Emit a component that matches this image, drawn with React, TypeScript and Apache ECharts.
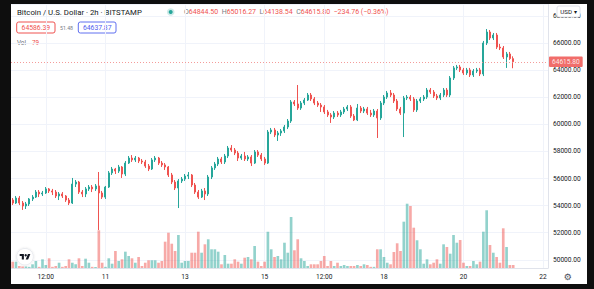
import React, { useEffect, useRef } from "react";
import * as echarts from "echarts";

// ---- data (2h candles, Bitstamp BTC/USD) ----
const opens = [
  54410, 54190, 54560, 54190, 53970, 54120, 54490, 54630, 55000, 54860,
  54930, 55230, 55080, 55000, 54710, 54860, 54710, 54410, 54190, 55590,
  55740, 55000, 54860, 55230, 55370, 55230, 55450, 54930, 54630, 55370,
  56410, 56700, 56550, 56850, 56330, 57140, 57510, 57370, 57510, 57290,
  57220, 56920, 56700, 57370, 57510, 57140, 57000, 56850, 56260, 55740,
  55300, 55820, 55960, 56180, 56260, 55520, 55000, 54630, 55080, 54860,
  56110, 56780, 57070, 57440, 57220, 57660, 58250, 58100, 57880, 57510,
  57660, 57440, 57590, 57140, 57960, 57730, 57440, 57140, 59430, 59580,
  59210, 59360, 59510, 59800, 60240, 61650, 61500, 61200, 61570, 61790,
  62160, 61870, 61570, 61420, 61280, 60910, 60690, 60540, 60830, 60690,
  60910, 61130, 61280, 60610, 60320, 61200, 60980, 61130, 60830, 60690,
  60980, 60470, 61570, 62010, 62310, 62160, 61720, 61130, 60830, 61940,
  62010, 61870, 61060, 61720, 61870, 62010, 62530, 62380, 62090, 61940,
  62160, 62530, 62160, 63420, 64160, 64230, 64010, 63790, 64010, 63640,
  63930, 64010, 63710, 66000, 66810, 66370, 66590, 65700, 65630, 64970,
  65190, 64844.5,
];
const closes = [
  54190, 54560, 54190, 53970, 54120, 54490, 54630, 55000, 54860, 54930,
  55230, 55080, 55000, 54710, 54860, 54710, 54410, 54190, 55590, 55740,
  55000, 54860, 55230, 55370, 55230, 55450, 54930, 54630, 55370, 56410,
  56700, 56550, 56850, 56330, 57140, 57510, 57370, 57510, 57290, 57220,
  56920, 56700, 57370, 57510, 57140, 57000, 56850, 56260, 55740, 55300,
  55820, 55960, 56180, 56260, 55520, 55000, 54630, 55080, 54860, 56110,
  56780, 57070, 57440, 57220, 57660, 58250, 58100, 57880, 57510, 57660,
  57440, 57590, 57140, 57960, 57730, 57440, 57140, 59430, 59580, 59210,
  59360, 59510, 59800, 60240, 61650, 61500, 61200, 61570, 61790, 62160,
  61870, 61570, 61420, 61280, 60910, 60690, 60540, 60830, 60690, 60910,
  61130, 61280, 60610, 60320, 61200, 60980, 61130, 60830, 60690, 60980,
  60470, 61570, 62010, 62310, 62160, 61720, 61130, 60830, 61940, 62010,
  61870, 61060, 61720, 61870, 62010, 62530, 62380, 62090, 61940, 62160,
  62530, 62160, 63420, 64160, 64230, 64010, 63790, 64010, 63640, 63930,
  64010, 63710, 66000, 66810, 66370, 66590, 65700, 65630, 64970, 65190,
  64850.56, 64615.8,
];
const lows = [
  54040, 54120, 54040, 53680, 53750, 53970, 54340, 54560, 54630, 54710,
  54860, 54930, 54780, 54560, 54410, 54560, 54270, 54040, 54120, 55370,
  54860, 54630, 54630, 55080, 55000, 55080, 52200, 54490, 54490, 55300,
  56260, 56330, 56410, 56040, 56180, 57070, 57220, 57220, 57140, 57070,
  56780, 56550, 56630, 57220, 57000, 56850, 56630, 56110, 55590, 55150,
  53820, 55670, 55820, 55960, 55370, 54860, 54490, 54560, 54410, 54710,
  55960, 56630, 56920, 57070, 57070, 57510, 57960, 57730, 57290, 57370,
  57290, 57290, 56920, 57070, 57590, 57290, 57000, 57070, 59280, 59060,
  58770, 59140, 59360, 59650, 60100, 61350, 61060, 61060, 61420, 61720,
  61720, 61420, 61280, 60910, 60760, 60540, 60100, 60390, 60540, 60540,
  60760, 60980, 60470, 60240, 60240, 60830, 60830, 60690, 60540, 60540,
  58990, 60320, 61420, 61870, 62010, 61570, 60980, 60690, 59060, 61790,
  61720, 60910, 60910, 61570, 61720, 61870, 62240, 61940, 61790, 61790,
  62010, 62010, 62010, 63270, 64010, 63860, 63640, 63640, 63490, 63490,
  63790, 63560, 63560, 65850, 66220, 66220, 65560, 65480, 64820, 64160,
  64750, 64138.54,
];
const highs = [
  54560, 54710, 54710, 54340, 54270, 54560, 54780, 55150, 55150, 55080,
  55370, 55300, 55230, 55150, 55000, 55000, 54780, 54560, 56040, 55890,
  55820, 55150, 55370, 55520, 55520, 55590, 56480, 55080, 55450, 56550,
  56850, 56780, 57000, 56920, 57290, 57660, 57730, 57660, 57590, 57440,
  57370, 57070, 57510, 57660, 57590, 57290, 57140, 56920, 56410, 55890,
  55960, 56110, 56330, 56480, 56330, 55670, 55150, 55230, 55300, 56260,
  56920, 57220, 57590, 57590, 57810, 58400, 58470, 58250, 58030, 57810,
  57960, 57730, 57730, 58100, 58100, 57880, 57590, 59580, 59730, 59730,
  59510, 59650, 59950, 60390, 61790, 61790, 62900, 61720, 61940, 62310,
  62310, 62010, 61720, 61570, 61420, 61060, 60830, 60980, 60980, 61060,
  61280, 61420, 61420, 60760, 61500, 61350, 61280, 61280, 61060, 61130,
  61130, 61720, 62160, 62460, 62530, 62310, 61870, 61280, 62090, 62160,
  62160, 62010, 61870, 62010, 62160, 62680, 62680, 62530, 62240, 62310,
  62680, 62680, 63560, 64300, 64380, 64380, 64160, 64160, 64160, 64080,
  64160, 64160, 66150, 67030, 66960, 66740, 66740, 65930, 65780, 65340,
  65340, 65016.27,
];
const volumes = [
  166, 166, 53, 40, 40, 30, 97, 184, 30, 229,
  79, 255, 30, 53, 139, 30, 53, 229, 139, 97,
  255, 53, 245, 139, 30, 26, 992, 139, 30, 255,
  113, 447, 184, 229, 429, 316, 255, 139, 289, 53,
  139, 203, 203, 203, 139, 184, 692, 928, 639, 447,
  868, 139, 184, 184, 402, 402, 955, 402, 623, 755,
  492, 492, 429, 97, 342, 113, 113, 229, 166, 113,
  271, 289, 229, 579, 166, 53, 166, 955, 492, 289,
  316, 229, 665, 402, 1341, 466, 755, 255, 184, 53,
  97, 97, 97, 184, 316, 53, 184, 53, 139, 53,
  79, 53, 53, 53, 79, 53, 97, 79, 30, 30,
  492, 492, 289, 139, 97, 421, 650, 447, 1218, 1691,
  1631, 1060, 729, 492, 113, 229, 97, 139, 229, 113,
  623, 552, 376, 868, 665, 736, 139, 53, 53, 184,
  97, 166, 955, 1518, 605, 402, 289, 139, 1044, 552,
  79, 79,
];
const slotCount = 162; // 2h slots shown on the time scale (incl. empty future space)
const categories = Array.from({ length: slotCount }, (_, i) => String(i));
const timeTickSlots = [10, 28, 52, 76, 94, 112, 136, 160];
const timeTickLabels = ["12:00", "11", "13", "15", "12:00", "18", "20", "22"];
const priceMin = 49395;
const priceMax = 68878;
const volMax = 6943;
const bidPrice = "64586.39";
const spread = "51.48";
const askPrice = "64637.87";

const UP = "#26a69a";
const DOWN = "#ef5350";
const VOL_UP = "rgba(38,166,154,0.5)";
const VOL_DOWN = "rgba(239,83,80,0.5)";
const FONT = "Roboto";

let registered = false;
function registerShapes() {
  if (registered) return;
  registered = true;
  echarts.graphic.registerShape(
    "tvlogo",
    echarts.graphic.extendPath("M14 22H7V11H0V4h14v18zM28 22h-8l7.5-18h8z", {}) as any
  );
}

export default function App() {
  const ref = useRef<HTMLDivElement>(null);
  useEffect(() => {
    registerShapes();
    const chart = echarts.init(ref.current!, null, { renderer: "svg" });
    const n = closes.length;
    const last = n - 1;
    const candleData = opens.map((o, i) => [o, closes[i], lows[i], highs[i]]);
    const volData = volumes.map((v, i) => ({
      value: v,
      itemStyle: { color: closes[i] >= opens[i] ? VOL_UP : VOL_DOWN },
    }));
    const change = closes[last] - closes[last - 1];
    const pct = (change / closes[last - 1]) * 100;
    const fmtSigned = (x: number, d: number) =>
      (x < 0 ? "\u2212" : "+") + Math.abs(x).toFixed(d);
    const isTick = (index: number) => timeTickSlots.indexOf(index) >= 0;

    const option: any = {
      animation: false,
      backgroundColor: "#ffffff",
      grid: { left: 0, right: 39, top: 0, bottom: 16, containLabel: false, outerBoundsMode: "none" },
      xAxis: {
        type: "category",
        data: categories,
        boundaryGap: true,
        axisLine: { show: true, lineStyle: { color: "#e0e3eb" } },
        axisTick: { show: false },
        axisLabel: {
          interval: (index: number) => isTick(index),
          formatter: (value: string) => {
            const k = timeTickSlots.indexOf(Number(value));
            return k >= 0 ? timeTickLabels[k] : "";
          },
          fontSize: 6.6,
          fontFamily: FONT,
          color: "#131722",
          margin: 5,
          hideOverlap: false,
        },
        splitLine: {
          show: true,
          interval: (index: number) => isTick(index),
          alignWithLabel: true,
          lineStyle: { color: "#f0f3fa", width: 1 },
        },
      },
      yAxis: [
        {
          type: "value",
          position: "right",
          min: priceMin,
          max: priceMax,
          splitNumber: 10,
          axisLine: { show: true, lineStyle: { color: "#e0e3eb" } },
          axisTick: { show: false },
          axisLabel: {
            showMinLabel: false,
            showMaxLabel: false,
            formatter: (v: number) => v.toFixed(2),
            fontSize: 6.6,
            fontFamily: FONT,
            color: "#131722",
            margin: 5,
          },
          splitLine: { show: true, lineStyle: { color: "#f0f3fa", width: 1 } },
        },
        {
          type: "value",
          min: 0,
          max: volMax,
          show: false,
          splitLine: { show: false },
        },
      ],
      series: [
        {
          type: "bar",
          xAxisIndex: 0,
          yAxisIndex: 1,
          data: volData,
          barWidth: "80%",
          z: 1,
          silent: true,
        },
        {
          type: "candlestick",
          xAxisIndex: 0,
          yAxisIndex: 0,
          data: candleData,
          barWidth: 1.5,
          z: 3,
          silent: true,
          itemStyle: {
            color: UP,
            color0: DOWN,
            borderColor: UP,
            borderColor0: DOWN,
            borderWidth: 1,
          },
          markLine: {
            silent: true,
            symbol: "none",
            animation: false,
            data: [{ yAxis: closes[last] }],
            lineStyle: { color: "#f28b88", type: [1, 2], width: 1, opacity: 0.85 },
            label: {
              show: true,
              position: "end",
              distance: 1,
              formatter: closes[last].toFixed(2),
              backgroundColor: DOWN,
              color: "#ffffff",
              fontSize: 6.6,
              fontFamily: FONT,
              padding: [2, 3, 1.5, 3],
              borderRadius: 1,
            },
          },
        },
      ],
      graphic: [
        {
          type: "text",
          x: 6,
          y: 8,
          style: {
            text: "Bitcoin / U.S. Dollar \u00b7 2h \u00b7 BITSTAMP",
            fill: "#131722",
            fontSize: 7.8,
            fontFamily: FONT,
            verticalAlign: "middle",
          },
        },
        { type: "circle", shape: { cx: 159.7, cy: 8, r: 3.8 }, style: { fill: "rgba(38,166,154,0.22)" } },
        { type: "circle", shape: { cx: 159.7, cy: 8, r: 2 }, style: { fill: UP } },
        {
          type: "text",
          x: 173,
          y: 8,
          style: {
            text:
              `{l|O}{v|${opens[last].toFixed(2)}}  {l|H}{v|${highs[last].toFixed(2)}}  ` +
              `{l|L}{v|${lows[last].toFixed(2)}}  {l|C}{v|${closes[last].toFixed(2)}}  ` +
              `{v|${fmtSigned(change, 2)} (${fmtSigned(pct, 2)}%)}`,
            fontSize: 7,
            fontFamily: FONT,
            verticalAlign: "middle",
            fill: "#787b86",
            rich: {
              l: { fill: "#787b86", fontSize: 7, fontFamily: FONT },
              v: { fill: DOWN, fontSize: 7, fontFamily: FONT },
            },
          },
        },
        {
          type: "rect",
          shape: { x: 5.7, y: 18, width: 38.3, height: 11, r: 2 },
          style: { fill: "#ffffff", stroke: DOWN, lineWidth: 1 },
        },
        {
          type: "text",
          x: 24.85,
          y: 23.7,
          style: { text: bidPrice, fill: DOWN, fontSize: 6.8, fontFamily: FONT, align: "center", verticalAlign: "middle" },
        },
        {
          type: "text",
          x: 55.5,
          y: 23.5,
          style: { text: spread, fill: "#787b86", fontSize: 5.2, fontFamily: FONT, align: "center", verticalAlign: "middle" },
        },
        {
          type: "rect",
          shape: { x: 67.3, y: 18, width: 37.7, height: 11, r: 2 },
          style: { fill: "#ffffff", stroke: "#6070f0", lineWidth: 1 },
        },
        {
          type: "text",
          x: 86.2,
          y: 23.7,
          style: { text: askPrice, fill: "#5060ee", fontSize: 6.8, fontFamily: FONT, align: "center", verticalAlign: "middle" },
        },
        {
          type: "text",
          x: 6,
          y: 38.5,
          style: { text: "Vol", fill: "#6a6d78", fontSize: 6.3, fontFamily: FONT, verticalAlign: "middle" },
        },
        {
          type: "text",
          x: 21,
          y: 38.5,
          style: { text: String(volumes[last]), fill: DOWN, fontSize: 6.3, fontFamily: FONT, verticalAlign: "middle" },
        },
        {
          type: "rect",
          z: 100,
          shape: { x: 546, y: 2, width: 23, height: 11, r: 2 },
          style: { fill: "#ffffff", stroke: "#d8dbe3", lineWidth: 0.8 },
        },
        {
          type: "text",
          z: 101,
          x: 557.5,
          y: 7.7,
          style: { text: "USD \u25be", fill: "#131722", fontSize: 6.2, fontFamily: FONT, align: "center", verticalAlign: "middle" },
        },
        {
          type: "text",
          x: 556.7,
          y: 272.7,
          style: { text: "\u2699", fill: "#4a4e5a", fontSize: 9, fontFamily: "DejaVu Sans", align: "center", verticalAlign: "middle" },
        },
        {
          type: "circle",
          z: 50,
          shape: { cx: 14, cy: 252.7, r: 8.3 },
          style: { fill: "#ffffff", stroke: "#e6e8ee", lineWidth: 0.8, shadowBlur: 2, shadowColor: "rgba(0,0,0,0.12)" },
        },
        {
          type: "tvlogo",
          z: 51,
          x: 8.7,
          y: 248.8,
          scaleX: 0.3,
          scaleY: 0.3,
          style: { fill: "#131722" },
        },
        {
          type: "circle",
          z: 51,
          shape: { cx: 8.7 + 20 * 0.3, cy: 248.8 + 8 * 0.3, r: 1.2 },
          style: { fill: "#131722" },
        },
      ],
    };
    chart.setOption(option);
    return () => chart.dispose();
  }, []);

  return (
    <div
      style={{
        position: "fixed",
        left: 0,
        top: 0,
        width: 594,
        height: 289,
        background: "#0e0e0e",
        overflow: "hidden",
      }}
    >
      <div
        ref={ref}
        style={{ position: "absolute", left: 11, top: 4, width: 576, height: 280, background: "#ffffff" }}
      />
    </div>
  );
}
